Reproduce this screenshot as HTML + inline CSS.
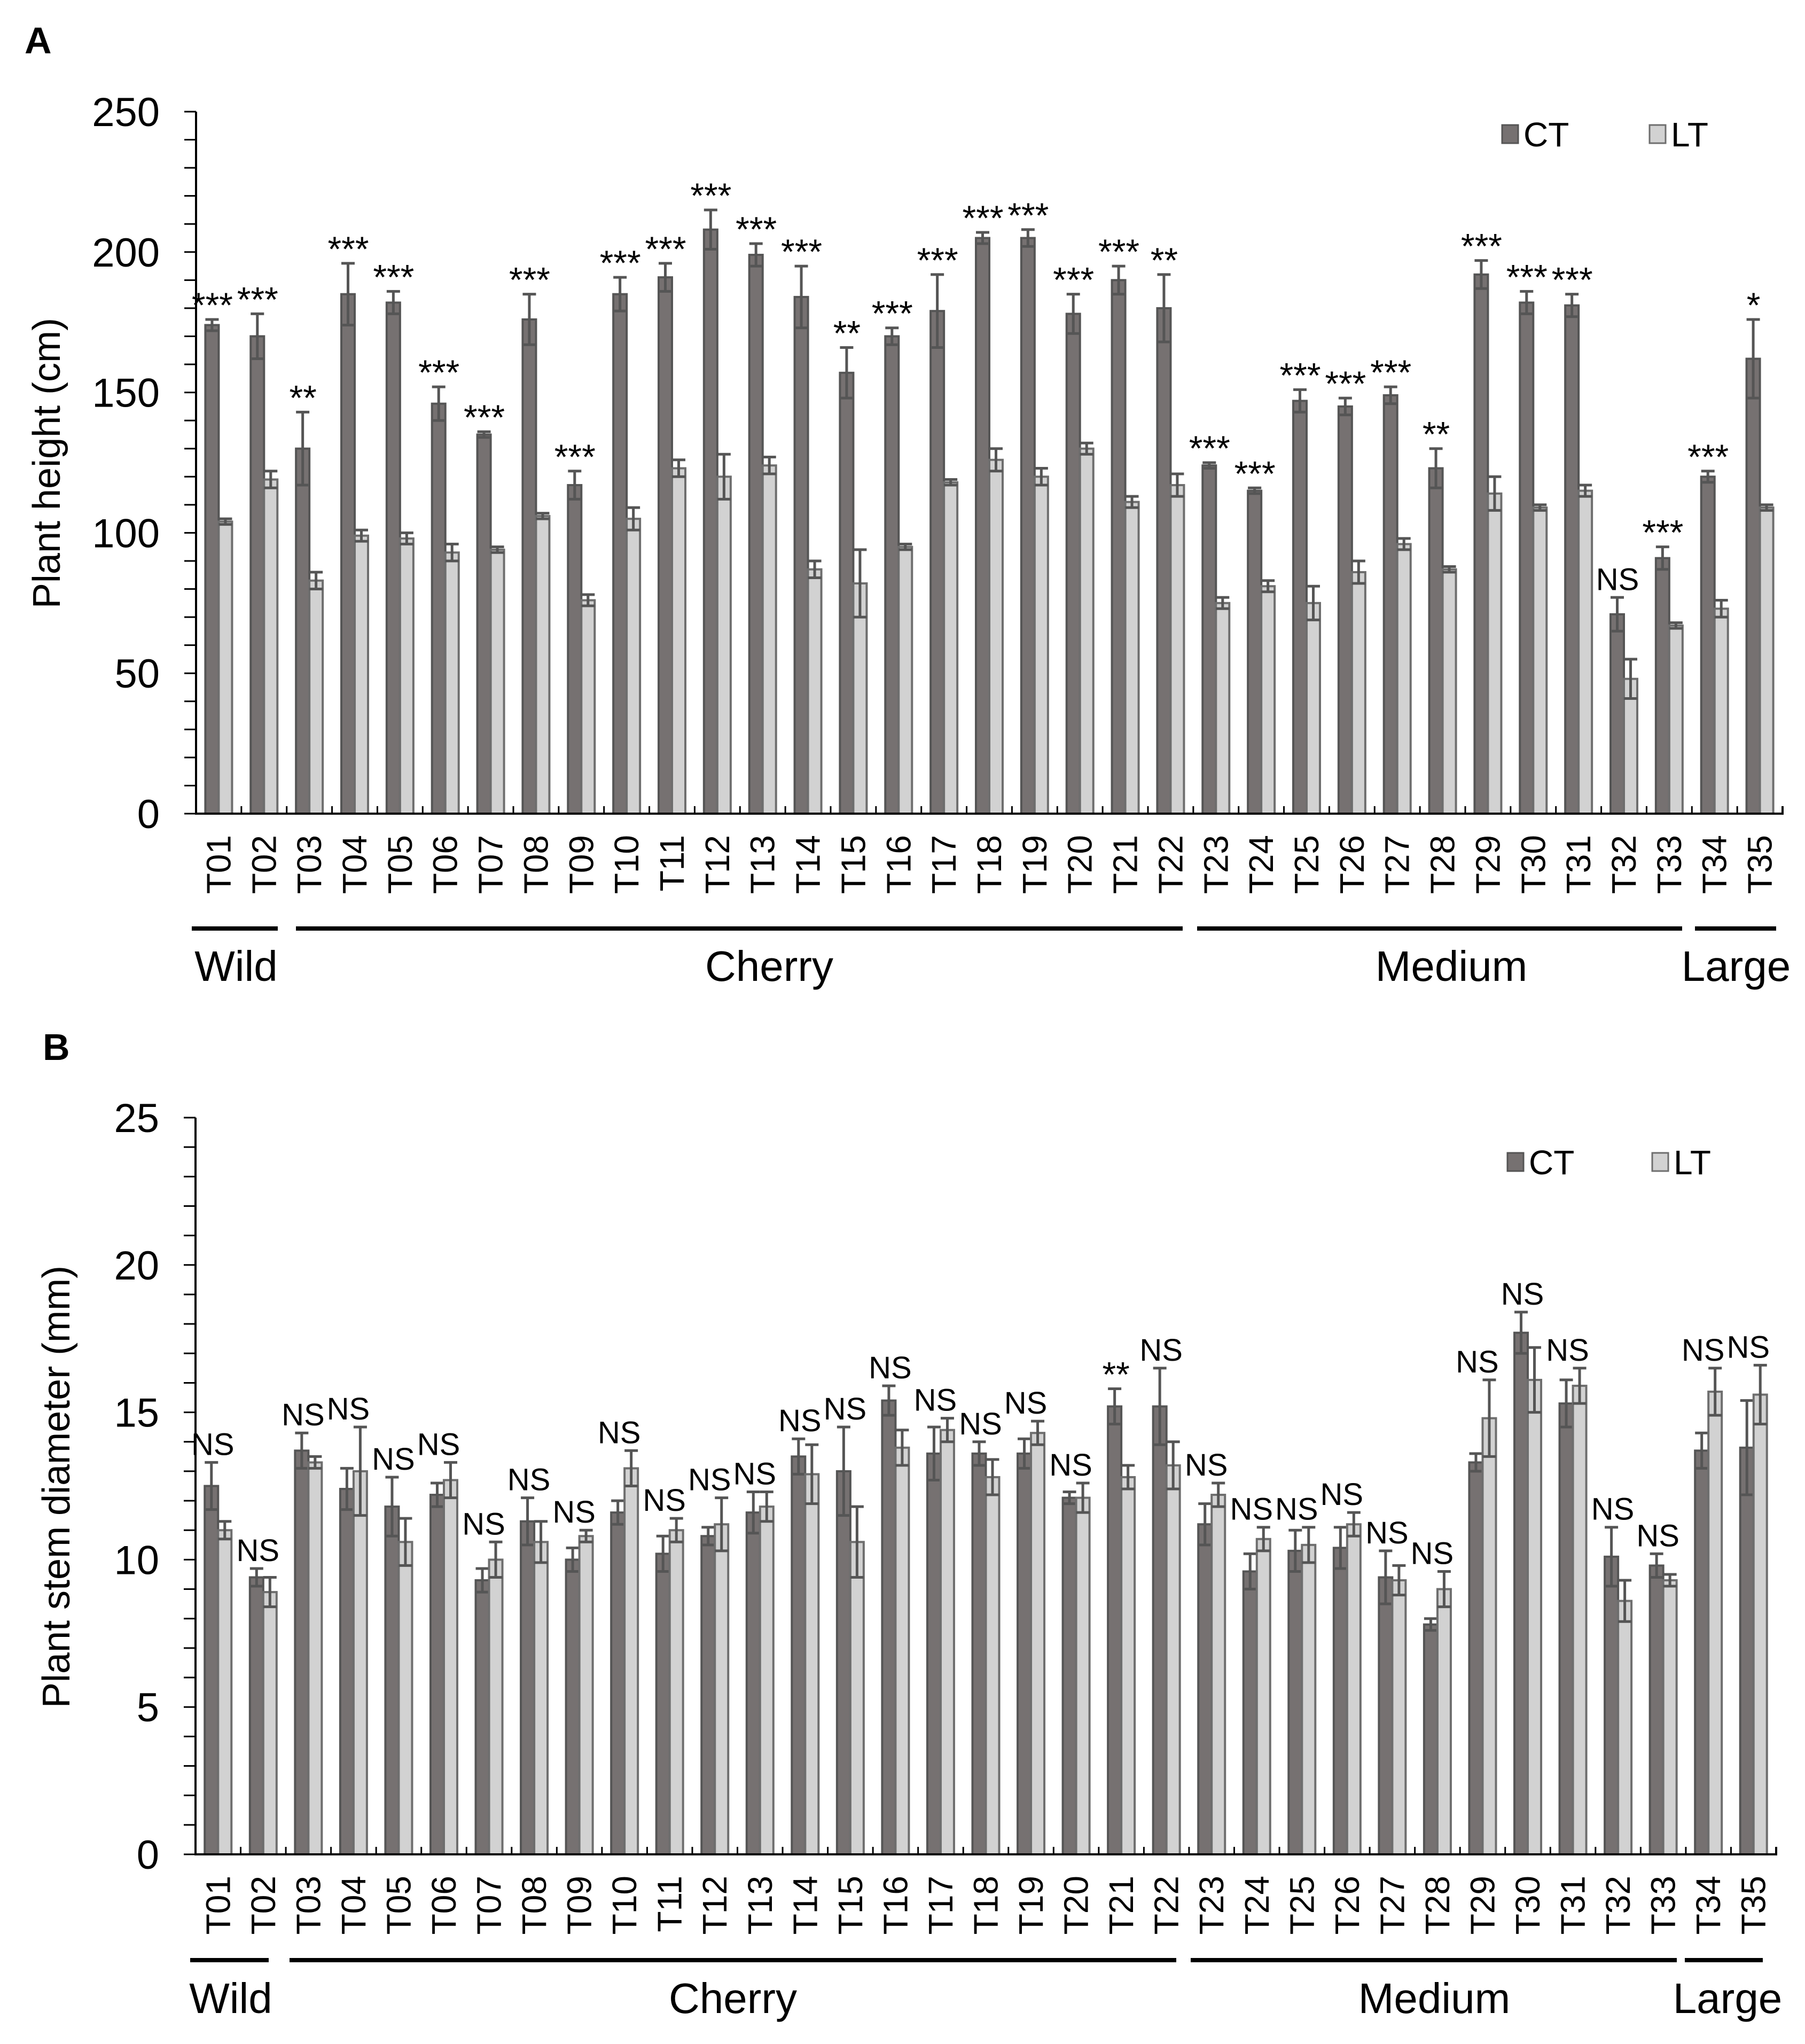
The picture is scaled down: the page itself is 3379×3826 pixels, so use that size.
<!DOCTYPE html>
<html><head><meta charset="utf-8"><style>
html,body{margin:0;padding:0;background:#fff}
svg{display:block}
text{font-family:"Liberation Sans",Arial,sans-serif;fill:#000}
</style></head><body>
<svg id="fig" width="3379" height="3826" viewBox="0 0 3379 3826" xmlns="http://www.w3.org/2000/svg"></svg>
<script>
const categories=["T01","T02","T03","T04","T05","T06","T07","T08","T09","T10","T11","T12","T13","T14","T15","T16","T17","T18","T19","T20","T21","T22","T23","T24","T25","T26","T27","T28","T29","T30","T31","T32","T33","T34","T35"];
const heightCT=[174,170,130,185,182,146,135,176,117,185,191,208,199,184,157,170,179,205,205,178,190,180,124,115,147,145,149,123,192,182,181,71,91,120,162];
const heightCTErr=[2,8,13,11,4,6,1,9,5,6,5,7,4,11,9,3,13,2,3,7,5,12,1,1,4,3,3,7,5,4,4,6,4,2,14];
const heightLT=[104,119,83,99,98,93,94,106,76,105,123,120,124,87,82,95,118,126,120,130,111,117,75,81,75,86,96,87,114,109,115,48,67,73,109];
const heightLTErr=[1,3,3,2,2,3,1,1,2,4,3,8,3,3,12,1,1,4,3,2,2,4,2,2,6,4,2,1,6,1,2,7,1,3,1];
const heightSig=["***","***","**","***","***","***","***","***","***","***","***","***","***","***","**","***","***","***","***","***","***","**","***","***","***","***","***","**","***","***","***","NS","***","***","*"];
const stemCT=[12.5,9.4,13.7,12.4,11.8,12.2,9.3,11.3,10.0,11.6,10.2,10.8,11.6,13.5,13.0,15.4,13.6,13.6,13.6,12.1,15.2,15.2,11.2,9.6,10.3,10.4,9.4,7.8,13.3,17.7,15.3,10.1,9.8,13.7,13.8];
const stemCTErr=[0.8,0.3,0.6,0.7,1.0,0.4,0.4,0.8,0.4,0.4,0.6,0.3,0.7,0.6,1.5,0.5,0.9,0.4,0.5,0.2,0.6,1.3,0.7,0.6,0.7,0.7,0.9,0.2,0.3,0.7,0.8,1.0,0.4,0.6,1.6];
const stemLT=[11.0,8.9,13.3,13.0,10.6,12.7,10.0,10.6,10.8,13.1,11.0,11.2,11.8,12.9,10.6,13.8,14.4,12.8,14.3,12.1,12.8,13.2,12.2,10.7,10.5,11.2,9.3,9.0,14.8,16.1,15.9,8.6,9.3,15.7,15.6];
const stemLTErr=[0.3,0.5,0.2,1.5,0.8,0.6,0.6,0.7,0.2,0.6,0.4,0.9,0.5,1.0,1.2,0.6,0.4,0.6,0.4,0.5,0.4,0.8,0.4,0.4,0.6,0.4,0.5,0.6,1.3,1.1,0.6,0.7,0.2,0.8,1.0];
const stemSig=["NS","NS","NS","NS","NS","NS","NS","NS","NS","NS","NS","NS","NS","NS","NS","NS","NS","NS","NS","NS","**","NS","NS","NS","NS","NS","NS","NS","NS","NS","NS","NS","NS","NS","NS"];
const yTicksA=[0,50,100,150,200,250];
const yTicksB=[0,5,10,15,20,25];

const NS="http://www.w3.org/2000/svg";
const svg=document.getElementById('fig');
function el(tag,attrs,parent,txt){const e=document.createElementNS(NS,tag);for(const k in attrs)e.setAttribute(k,attrs[k]);if(txt!==undefined)e.textContent=txt;(parent||svg).appendChild(e);return e;}

function panel(cfg){
  const g=el('g',{});
  
  
  const n=categories.length;
  const step=(cfg.x1-cfg.x0)/n;
  const xc=i=>cfg.x0+step*(i+0.5);
  const y=v=>cfg.yBase-(v/cfg.yMax)*(cfg.yBase-cfg.yTop);
  const bw=25;
  for(let v=0;v<=cfg.yMax+1e-9;v+=cfg.minor){
    const t=el('line',{x1:cfg.x0-22,x2:cfg.x0,y1:y(v),y2:y(v),stroke:'#000','stroke-width':3},g);
    
    
  }
  cfg.ticks.forEach(v=>{
    const t=el('text',{x:cfg.x0-68,y:y(v)+27,'text-anchor':'end','font-size':76},g,String(v));
    
    
  });
  categories.forEach((c,i)=>{
    const cx=xc(i);
    [[cfg.ct[i],cfg.ctE[i],cx-bw,'#767171','#555'],[cfg.lt[i],cfg.ltE[i],cx,'#d2d2d2','#6e6e6e']].forEach((s,k)=>{
      const r=el('rect',{x:s[2],y:y(s[0]),width:bw,height:y(0)-y(s[0]),fill:s[3],stroke:s[4],'stroke-width':4},g);
      
      
      const bx=s[2]+bw/2, yt=y(s[0]+s[1]), yb=y(s[0]-s[1]);
      const e=el('path',{d:`M${bx},${yt}V${yb}M${bx-bw/2},${yt}H${bx+bw/2}M${bx-bw/2},${yb}H${bx+bw/2}`,stroke:'#555','stroke-width':5,fill:'none'},g);
      
      
    });
    const top=cfg.sigBoth?Math.max(cfg.ct[i]+cfg.ctE[i],cfg.lt[i]+cfg.ltE[i]):cfg.ct[i]+cfg.ctE[i];
    const isStar=cfg.sig[i].indexOf('*')>=0;
    const st=el('text',{x:cx-(cfg.sigBoth?10:12),y:y(top)-(isStar?4:14),'text-anchor':'middle','font-size':isStar?66:58},g,cfg.sig[i]);
    
    
    if(i<n-1){
      const t=el('line',{x1:cfg.x0+step*(i+1),x2:cfg.x0+step*(i+1),y1:cfg.yBase,y2:cfg.yBase-14,stroke:'#000','stroke-width':3},g);
      
      
    }
    const lbl=el('text',{transform:`translate(${cx+22},${cfg.yBase+40}) rotate(-90)`,'text-anchor':'end','font-size':64},g,c);
    
    
  });
  const ax=el('path',{d:`M${cfg.x0},${cfg.yTop}V${cfg.yBase}H${cfg.x1}V${cfg.yBase-14}`,stroke:'#000','stroke-width':4,fill:'none'},g);
  
  
  const yt=el('text',{transform:`translate(${cfg.titleX},${cfg.titleY}) rotate(-90)`,'text-anchor':'middle','font-size':72},g,cfg.title);
  
  
  cfg.groups.forEach(gr=>{
    const l=el('line',{x1:gr[1],x2:gr[2],y1:cfg.groupY,y2:cfg.groupY,stroke:'#000','stroke-width':8},g);
    
    
    const t=el('text',{x:gr[3],y:cfg.groupTextY,'text-anchor':'middle','font-size':80},g,gr[0]);
    
    
  });
  const lg=el('g',{},g);
  
  
  [['CT',cfg.legX[0],'#767171','#555'],['LT',cfg.legX[1],'#d2d2d2','#6e6e6e']].forEach(L=>{
    const r=el('rect',{x:L[1],y:cfg.legY-32,width:30,height:34,fill:L[2],stroke:L[3],'stroke-width':3},lg);
    
    
    const t=el('text',{x:L[1]+40,y:cfg.legY+8,'font-size':64},lg,L[0]);
    
    
  });
  const pl=el('text',{x:cfg.letter[0],y:cfg.letter[1],'font-size':70,'font-weight':'bold'},g,cfg.letter[2]);
  
  
}

panel({name:'panel-a-plant-height',x0:367,x1:3337,yTop:209,yBase:1523,yMax:250,minor:10,ticks:yTicksA,
  ct:heightCT,ctE:heightCTErr,lt:heightLT,ltE:heightLTErr,sig:heightSig,sigBoth:false,
  title:'Plant height (cm)',titleX:112,titleY:867,
  groups:[['Wild',359,520,442],['Cherry',554,2214,1440],['Medium',2241,3149,2717],['Large',3173,3325,3250]],
  groupY:1738,groupTextY:1836,legX:[2812,3088],legY:266,letter:[46,100,'A']});
panel({name:'panel-b-stem-diameter',x0:366,x1:3325,yTop:2092,yBase:3471,yMax:25,minor:1,ticks:yTicksB,
  ct:stemCT,ctE:stemCTErr,lt:stemLT,ltE:stemLTErr,sig:stemSig,sigBoth:true,
  title:'Plant stem diameter (mm)',titleX:130,titleY:2783,
  groups:[['Wild',356,503,432],['Cherry',542,2202,1372],['Medium',2229,3139,2685],['Large',3154,3300,3234]],
  groupY:3669,groupTextY:3768,legX:[2822,3093],legY:2190,letter:[80,1984,'B']});
</script>
</body></html>
